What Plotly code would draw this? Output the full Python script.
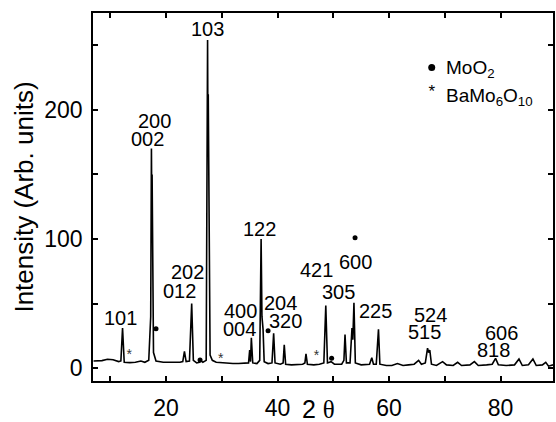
import plotly.graph_objects as go

# --- pattern (2theta, intensity) ---
two_theta = [7.0, 8.5, 9.5, 10.5, 11.5, 11.9, 12.2, 12.5, 13.5, 14.5, 15.5, 16.2, 16.9,
             17.25, 17.38, 17.45, 17.5, 17.75, 18.2, 19.5, 20.5, 21.5, 22.5, 23.0, 23.3,
             23.6, 24.2, 24.6, 24.9, 25.5, 26.0, 26.3, 26.6, 27.2, 27.45, 27.52, 27.57,
             27.9, 28.3, 29.0, 30.0, 31.0, 32.0, 33.0, 34.0, 34.8, 35.0, 35.15, 35.3,
             35.55, 36.3, 36.8, 37.05, 37.2, 37.4, 37.6, 38.3, 39.0, 39.3, 39.55, 40.5,
             41.0, 41.2, 41.45, 42.5, 43.5, 44.5, 44.9, 45.1, 45.35, 46.5, 47.5, 48.3,
             48.65, 48.95, 49.6, 50.2, 51.5, 51.9, 52.1, 52.35, 53.0, 53.35, 53.5, 53.7,
             53.95, 55.0, 56.5, 56.9, 57.2, 57.7, 58.1, 58.35, 59.5, 60.5, 61.5, 62.5,
             63.5, 64.5, 65.3, 65.8, 66.5, 66.9, 67.1, 67.3, 67.6, 68.5, 69.6, 70.3,
             71.5, 72.3, 73.0, 74.5, 75.3, 76.0, 77.5, 78.5, 79.1, 79.6, 81.0, 82.5,
             83.3, 83.9, 85.0, 85.8, 86.4, 87.5, 88.1, 88.6, 89.4]
intensity = [5.5, 5.8, 6.8, 6.5, 5.0, 5.5, 31, 4.5, 4.2, 4.5, 5.5, 4.5, 6,
             40, 170, 120, 150, 12, 5.5, 4.5, 4.3, 4.5, 4.5, 5, 13,
             5, 5.5, 50, 6, 4, 4.5, 5.5, 4.5, 6, 254, 170, 212,
             10, 6, 4.5, 4, 3.8, 3.5, 3.5, 3.5, 4, 14, 5, 23.5,
             4, 3.5, 6, 100, 40, 30, 5, 3.5, 4, 27, 4, 3,
             4, 18, 3, 2.5, 2.5, 3, 4, 11, 3, 2.5, 3, 4,
             48.5, 4, 5, 3, 3, 6, 26, 4, 4, 31, 22, 50.5,
             4, 2.5, 3, 8, 3, 3, 30, 3, 2, 2, 3.5, 2,
             2.5, 3, 6, 3, 4, 15.5, 12, 14, 3, 2, 5, 2.5,
             2, 4.5, 2, 2.5, 5, 2, 2.5, 3, 7.5, 2.5, 2, 2.5,
             7, 2, 2.5, 7, 2, 2.5, 4.5, 1.5, 2.5]

# --- phase markers ---
moo2_x = [18.2, 26.1, 38.3, 49.7, 53.9]
moo2_y = [30.5, 6.2, 29, 7.7, 101]
bamo_x = [13.4, 29.8, 47.0]
bamo_y = [10, 6.5, 8.8]

# --- hkl labels ---
hkl_text = ["101", "200", "002", "103", "202", "012", "122", "400", "004", "204", "320",
            "421", "600", "305", "225", "524", "515", "606", "818"]
hkl_x = [11.9, 17.9, 16.7, 27.5, 23.9, 22.5, 36.7, 33.4, 33.1, 40.5, 41.4,
         46.9, 53.9, 51.0, 57.6, 67.5, 66.3, 80.1, 78.8]
hkl_y = [39, 191.5, 177.5, 262.6, 74.4, 60, 107.5, 44, 30, 50.5, 36.4,
         76, 82, 59, 44, 41, 28, 27.5, 14]

# --- legend entries ---
legend_labels = ["MoO<sub>2</sub>", "BaMo<sub>6</sub>O<sub>10</sub>"]
legend_x = [69.85, 69.85]
legend_y = [232.0, 210.0]

FONT = "Liberation Sans, Arial, sans-serif"

fig = go.Figure()
fig.add_trace(go.Scatter(x=two_theta, y=intensity, mode="lines",
                         line=dict(color="black", width=1.6), showlegend=False))
fig.add_trace(go.Scatter(x=moo2_x, y=moo2_y, mode="markers",
                         marker=dict(color="black", size=5), showlegend=False))
fig.add_trace(go.Scatter(x=bamo_x, y=bamo_y, mode="text", text=["*"] * len(bamo_x),
                         textfont=dict(family=FONT, size=14, color="#333"),
                         showlegend=False))
# legend symbols
fig.add_trace(go.Scatter(x=[67.65], y=[232.8], mode="markers",
                         marker=dict(color="black", size=7), showlegend=False))
fig.add_trace(go.Scatter(x=[67.65], y=[213], mode="text", text=["*"],
                         textfont=dict(family=FONT, size=17, color="black"),
                         showlegend=False))

for t, x, y in zip(hkl_text, hkl_x, hkl_y):
    fig.add_annotation(x=x, y=y, text=t, showarrow=False,
                       font=dict(family=FONT, size=20, color="black"),
                       xanchor="center", yanchor="middle")

for t, x, y in zip(legend_labels, legend_x, legend_y):
    fig.add_annotation(x=x, y=y, text=t, showarrow=False,
                       font=dict(family=FONT, size=19, color="black"),
                       xanchor="left", yanchor="middle")

# x-axis title
fig.add_annotation(xref="paper", yref="paper", x=0.49, y=-0.075,
                   text="2 <span style='font-family:Liberation Serif'>θ</span>",
                   showarrow=False, font=dict(family=FONT, size=25, color="black"),
                   xanchor="center", yanchor="middle")

axis_common = dict(showline=True, linecolor="black", linewidth=1.5, mirror="ticks",
                   ticks="inside", ticklen=5, tickwidth=1.5, tickcolor="black",
                   showgrid=False, zeroline=False,
                   tickfont=dict(family=FONT, size=23, color="black"))

fig.update_xaxes(range=[6.9, 89.4], dtick=20, tick0=0,
                 minor=dict(dtick=10, ticks="inside", ticklen=5, tickwidth=1.5,
                            tickcolor="black", showgrid=False),
                 ticklabelstandoff=6, **axis_common)
fig.update_yaxes(range=[-10, 275], dtick=100, tick0=0,
                 minor=dict(dtick=50, ticks="inside", ticklen=5, tickwidth=1.5,
                            tickcolor="black", showgrid=False),
                 ticklabelstandoff=4,
                 title=dict(text="Intensity (Arb. units)",
                            font=dict(family=FONT, size=26, color="black"), standoff=3),
                 **axis_common)

fig.update_layout(width=556, height=422, margin=dict(l=93, r=1, t=13, b=39),
                  plot_bgcolor="white", paper_bgcolor="white", showlegend=False)

fig.write_html("out.html")
